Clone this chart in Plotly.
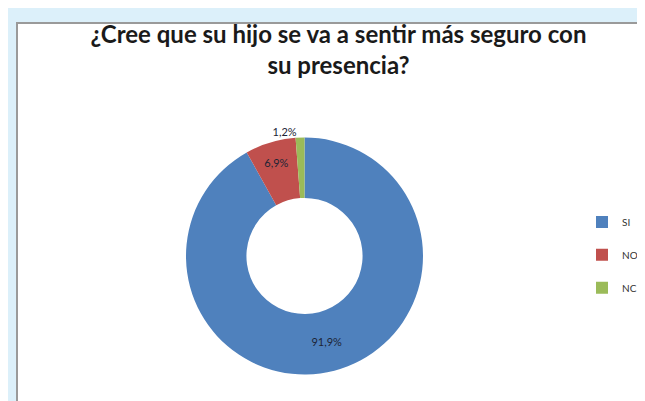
import plotly.graph_objects as go

title_lines = ["¿Cree que su hijo se va a sentir más seguro con", "su presencia?"]
labels = ["SI", "NO", "NC"]
values = [91.9, 6.9, 1.2]
colors = ["#4F81BD", "#C0504D", "#9BBB59"]
text_positions = ["inside", "inside", "outside"]

W, H = 645, 401

# small legend text inside a taller legend row (reference rows are widely spaced)
legend_labels = [
    f'<span style="font-size:10px;baseline-shift:5.5px">{lab}</span>' for lab in labels
]

fig = go.Figure(
    go.Pie(
        labels=legend_labels,
        values=values,
        customdata=labels,
        hole=0.49,
        sort=False,
        direction="clockwise",
        rotation=0,
        marker=dict(colors=colors, line=dict(width=0)),
        texttemplate="%{percent:.1%}",
        hovertemplate="%{customdata}: %{percent:.1%}<extra></extra>",
        textposition=text_positions,
        insidetextorientation="horizontal",
        textfont=dict(family="Lato", size=11, color="#1c2435"),
        insidetextfont=dict(family="Lato", size=11, color="#1c2435"),
        outsidetextfont=dict(family="Lato", size=11, color="#1c2435"),
        domain=dict(x=[178 / W, 415 / W], y=[34.5 / H, 271.5 / H]),
    )
)

fig.update_layout(
    width=W,
    height=H,
    separators=",.",
    paper_bgcolor="#DCF0FA",
    plot_bgcolor="#FFFFFF",
    margin=dict(l=0, r=0, t=0, b=0, autoexpand=False),
    title=dict(
        text="<br>".join(title_lines),
        x=330.5 / W,
        xanchor="center",
        y=1 - 35 / H,
        yanchor="top",
        font=dict(family="Lato", size=24, color="#1a1a1a", weight="bold"),
    ),
    legend=dict(
        x=574 / W,
        xanchor="left",
        y=1 - 192.5 / H,
        yanchor="top",
        font=dict(family="Lato", size=23, color="#333333"),
        itemwidth=30,
        bgcolor="rgba(0,0,0,0)",
    ),
    shapes=[
        dict(
            type="rect",
            xref="paper",
            yref="paper",
            x0=9 / W,
            x1=1.05,
            y0=-0.05,
            y1=1 - 15 / H,
            line=dict(color="#9a9a9a", width=2),
            fillcolor="#FFFFFF",
            layer="below",
        )
    ],
)

fig.write_html("out.html")
